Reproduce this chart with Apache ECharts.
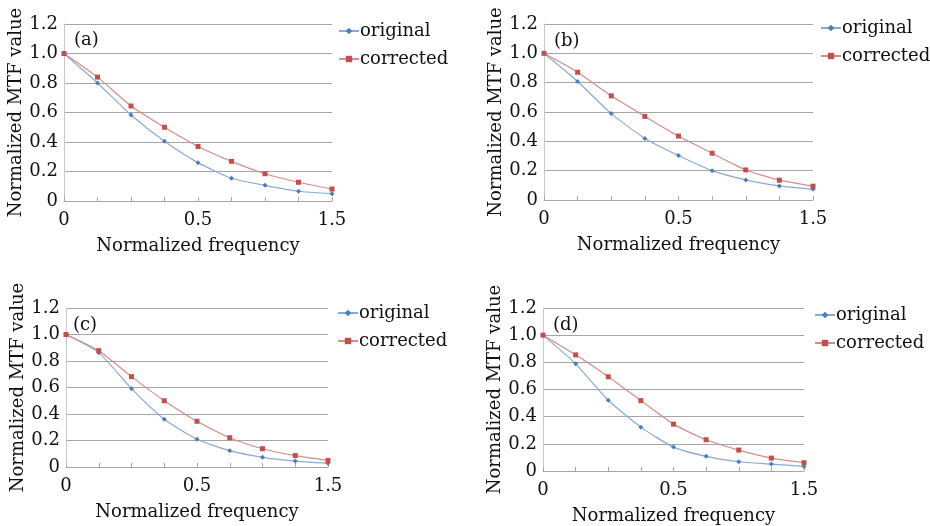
<!DOCTYPE html>
<html>
<head>
<meta charset="utf-8">
<script src="https://cdn.jsdelivr.net/npm/echarts@6/dist/echarts.min.js"></script>
<style>
  html, body { margin: 0; padding: 0; background: #fff; }
  #main { width: 930px; height: 526px; }
</style>
</head>
<body>
<div id="main"></div>
<script>
// x axis: 9 sample points, only 0 / 0.5 / 1.5 labelled (as in the original figure)
var freqTicks = ['0', '', '', '', '0.5', '', '', '', '1.5'];

var origA = [1.0, 0.80, 0.583, 0.405, 0.26, 0.154, 0.106, 0.066, 0.05];
var corrA = [1.0, 0.84, 0.644, 0.50, 0.37, 0.269, 0.185, 0.127, 0.081];

var origB = [1.0, 0.808, 0.589, 0.42, 0.303, 0.20, 0.137, 0.096, 0.073];
var corrB = [1.0, 0.871, 0.71, 0.57, 0.436, 0.319, 0.205, 0.135, 0.094];

var origC = [1.0, 0.863, 0.591, 0.36, 0.209, 0.123, 0.073, 0.045, 0.028];
var corrC = [1.0, 0.878, 0.682, 0.50, 0.345, 0.221, 0.138, 0.086, 0.05];

var origD = [1.0, 0.789, 0.521, 0.323, 0.176, 0.108, 0.068, 0.051, 0.034];
var corrD = [1.0, 0.855, 0.694, 0.518, 0.345, 0.23, 0.154, 0.095, 0.061];

var panelLabels = ['(a)', '(b)', '(c)', '(d)'];
var origData = [origA, origB, origC, origD];
var corrData = [corrA, corrB, corrC, corrD];

var font = 'DejaVu Serif';
var ink = '#111';
var blue = '#4a7ebb', blueLine = '#88aadb';
var red = '#c0504d', redLine = '#d98b89';

// panel boxes (plot area) and legend / label spots
var grids = [
    {left: 64, top: 24, width: 268, height: 177},
    {left: 544, top: 24, width: 269, height: 176},
    {left: 66, top: 308, width: 262, height: 159},
    {left: 543, top: 308, width: 261, height: 164}
];
var legendPos = [
    {left: 333, top: 17},
    {left: 815, top: 14},
    {left: 332, top: 299},
    {left: 809, top: 301}
];
var labelPos = [
    {left: 74, top: 31},
    {left: 554, top: 32},
    {left: 73, top: 316},
    {left: 553, top: 316}
];

var chart = echarts.init(document.getElementById('main'));

var xAxes = [], yAxes = [], series = [], legends = [], titles = [];

for (var i = 0; i < 4; i++) {
    xAxes.push({
        type: 'category',
        gridIndex: i,
        data: freqTicks,
        boundaryGap: false,
        name: 'Normalized frequency',
        nameLocation: 'middle',
        nameGap: 36,
        nameTextStyle: {fontFamily: font, fontSize: 18, color: ink},
        axisLine: {lineStyle: {color: '#a6a6a6', width: 1}},
        axisTick: {show: true, inside: true, length: 4, interval: 0, lineStyle: {color: '#a6a6a6'}},
        axisLabel: {interval: 0, fontFamily: font, fontSize: 18, color: ink, margin: 10},
        splitLine: {show: false}
    });
    yAxes.push({
        type: 'value',
        gridIndex: i,
        min: 0,
        max: 1.2,
        interval: 0.2,
        name: 'Normalized MTF value',
        nameLocation: 'middle',
        nameGap: 34,
        nameTextStyle: {fontFamily: font, fontSize: 18, color: ink},
        axisLine: {show: true, lineStyle: {color: '#c8c8c8', width: 1}},
        axisTick: {show: false},
        axisLabel: {
            fontFamily: font, fontSize: 18, color: ink, margin: 6,
            formatter: function (v) { return v === 0 ? '0' : v.toFixed(1); }
        },
        splitLine: {show: true, lineStyle: {color: '#a6a6a6', width: 1}}
    });
    series.push({
        name: 'original',
        type: 'line',
        xAxisIndex: i,
        yAxisIndex: i,
        data: origData[i],
        smooth: 0.2,
        symbol: 'diamond',
        symbolSize: 5,
        itemStyle: {color: blue},
        lineStyle: {color: blueLine, width: 1.2}
    });
    series.push({
        name: 'corrected',
        type: 'line',
        xAxisIndex: i,
        yAxisIndex: i,
        data: corrData[i],
        smooth: 0.2,
        symbol: 'rect',
        symbolSize: 5,
        itemStyle: {color: red},
        lineStyle: {color: redLine, width: 1.2}
    });
    legends.push({
        left: legendPos[i].left,
        top: legendPos[i].top,
        orient: 'vertical',
        itemWidth: 20,
        itemHeight: 8,
        itemGap: 10,
        selectedMode: false,
        data: ['original', 'corrected'],
        textStyle: {fontFamily: font, fontSize: 18, color: ink, padding: [0, 0, 0, -4]}
    });
    titles.push({
        text: panelLabels[i],
        left: labelPos[i].left,
        top: labelPos[i].top,
        padding: 0,
        textStyle: {fontFamily: font, fontSize: 18, fontWeight: 'normal', color: ink}
    });
}

chart.setOption({
    backgroundColor: '#fff',
    animation: false,
    title: titles,
    legend: legends,
    grid: grids,
    xAxis: xAxes,
    yAxis: yAxes,
    series: series
});
</script>
</body>
</html>
